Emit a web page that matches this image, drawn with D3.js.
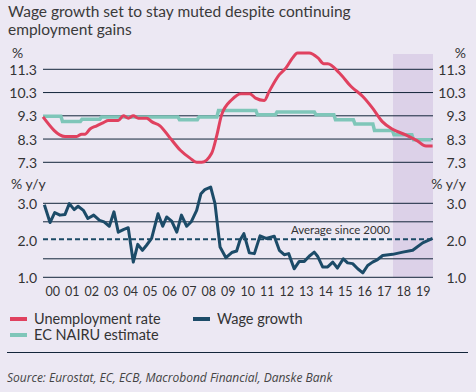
<!DOCTYPE html>
<html>
<head>
<meta charset="utf-8">
<script src="https://cdn.jsdelivr.net/npm/d3@7"></script>
<style>
  body { margin: 0; background: #ece8f3; }
  svg { display: block; font-family: Lato, "Open Sans", sans-serif; }
</style>
</head>
<body>
<div id="chart"></div>
<script>
// [decimal year, value]
const unemployment = [
  [2000.0, 9.25], [2001.13, 8.41], [2001.73, 8.41], [2001.98, 8.51], [2002.15, 8.51],
  [2002.41, 8.73], [2002.75, 8.87], [2003.1, 9.01], [2003.35, 9.1], [2003.86, 9.1],
  [2004.12, 9.3], [2004.38, 9.2], [2004.63, 9.3], [2004.89, 9.2], [2005.32, 9.2],
  [2005.57, 9.05], [2006.0, 8.87], [2006.51, 8.35], [2007.03, 7.83], [2007.54, 7.48],
  [2007.88, 7.3], [2008.14, 7.3], [2008.65, 7.69], [2008.9, 8.41], [2009.16, 9.34],
  [2009.68, 9.99], [2010.15, 10.25], [2010.6, 10.25], [2010.9, 10.06], [2011.35, 9.96],
  [2011.6, 10.35], [2012.12, 11.07], [2012.46, 11.36], [2012.8, 11.79], [2013.05, 12.0],
  [2013.65, 12.0], [2014.1, 11.79], [2014.4, 11.54], [2014.6, 11.54], [2015.2, 11.14],
  [2015.8, 10.56], [2016.4, 10.13], [2016.9, 9.63], [2017.4, 9.05], [2017.93, 8.72],
  [2018.6, 8.48], [2019.2, 8.22], [2019.64, 8.0], [2019.98, 8.0]
];

// EC NAIRU estimate, one value per year
const nairuYears = d3.range(2000, 2020);
const nairuValues = [9.28, 9.05, 9.15, 9.25, 9.25, 9.25, 9.25, 9.13, 9.25, 9.53,
                     9.53, 9.34, 9.46, 9.46, 9.34, 9.13, 8.95, 8.67, 8.48, 8.27];

const wages = [
  [2000.07, 2.96], [2000.36, 2.48], [2000.6, 2.75], [2000.87, 2.68], [2001.13, 2.70],
  [2001.35, 2.99], [2001.6, 2.83], [2001.8, 2.92], [2002.07, 2.81], [2002.3, 2.59],
  [2002.6, 2.68], [2002.9, 2.54], [2003.13, 2.50], [2003.4, 2.38], [2003.64, 2.77],
  [2003.86, 2.22], [2004.12, 2.29], [2004.37, 2.34], [2004.63, 1.41], [2004.86, 1.89],
  [2005.1, 1.73], [2005.3, 1.86], [2005.57, 2.05], [2005.9, 2.72], [2006.14, 2.38],
  [2006.34, 2.63], [2006.6, 2.52], [2006.86, 2.22], [2007.1, 2.68], [2007.37, 2.38],
  [2007.6, 2.50], [2007.88, 2.81], [2008.1, 3.26], [2008.3, 3.37], [2008.6, 3.44],
  [2008.82, 2.99], [2009.08, 1.82], [2009.38, 1.53], [2009.68, 1.67], [2009.93, 1.71],
  [2010.1, 2.0], [2010.3, 2.18], [2010.58, 1.66], [2010.84, 1.64], [2011.13, 2.12],
  [2011.44, 2.05], [2011.86, 2.11], [2012.12, 1.73], [2012.37, 1.61], [2012.6, 1.64],
  [2012.88, 1.23], [2013.14, 1.43], [2013.4, 1.43], [2013.65, 1.57], [2013.91, 1.68],
  [2014.08, 1.57], [2014.34, 1.28], [2014.6, 1.28], [2014.86, 1.41], [2015.1, 1.25],
  [2015.4, 1.5], [2015.62, 1.39], [2015.88, 1.37], [2016.14, 1.23], [2016.4, 1.12],
  [2016.65, 1.32], [2016.9, 1.41], [2017.16, 1.48], [2017.42, 1.59], [2017.93, 1.62],
  [2018.45, 1.68], [2018.96, 1.73], [2019.47, 1.93], [2019.98, 2.05]
];

const wageAverage = 2.03;
const forecastStart = 2017.95;

const topTicks = [7.3, 8.3, 9.3, 10.3, 11.3];
const bottomGrid = [1.0, 1.5, 2.5, 3.0];
const bottomTicks = [1.0, 2.0, 3.0];
const yearLabels = ["00","01","02","03","04","05","06","07","08","09",
                    "10","11","12","13","14","15","16","17","18","19"];

const width = 476, height = 392;
const svg = d3.select("#chart").append("svg")
  .attr("width", width).attr("height", height);

svg.append("rect").attr("width", width).attr("height", height).attr("fill", "#ece8f3");

const x = d3.scaleLinear().domain([2000, 2020]).range([43, 433]);
const yTop = d3.scaleLinear().domain([7.3, 11.3]).range([162.3, 69.3]);
const yBot = d3.scaleLinear().domain([1.0, 3.0]).range([277.3, 203.3]);

const textCol = "#333333";
const gridCol = "#13253a";

// title
svg.append("text").attr("x", 8).attr("y", 17)
  .attr("font-size", 15.5).attr("fill", "#3a3a3a")
  .text("Wage growth set to stay muted despite continuing");
svg.append("text").attr("x", 8).attr("y", 35)
  .attr("font-size", 15.5).attr("fill", "#3a3a3a")
  .text("employment gains");

// forecast shading
svg.append("rect")
  .attr("x", x(forecastStart)).attr("y", 54)
  .attr("width", x(2020) - x(forecastStart)).attr("height", yBot(1.0) - 54)
  .attr("fill", "#dcd1e8");

// top gridlines and labels
svg.append("g").selectAll("line").data(topTicks).join("line")
  .attr("x1", x(2000)).attr("x2", x(2020))
  .attr("y1", d => yTop(d)).attr("y2", d => yTop(d))
  .attr("stroke", gridCol).attr("stroke-width", 1);

const lab = svg.append("g").attr("font-size", 14).attr("fill", textCol)
  .attr("dominant-baseline", "central");
lab.selectAll(".tl").data(topTicks).join("text")
  .attr("x", 37).attr("y", d => yTop(d)).attr("text-anchor", "end")
  .text(d => d.toFixed(1));
lab.selectAll(".tr").data(topTicks).join("text")
  .attr("x", 466).attr("y", d => yTop(d)).attr("text-anchor", "end")
  .text(d => d.toFixed(1));
lab.append("text").attr("x", 12).attr("y", 52).text("%");
lab.append("text").attr("x", 466).attr("y", 52).attr("text-anchor", "end").text("%");

// bottom gridlines and labels
svg.append("g").selectAll("line").data(bottomGrid).join("line")
  .attr("x1", x(2000)).attr("x2", x(2020))
  .attr("y1", d => yBot(d)).attr("y2", d => yBot(d))
  .attr("stroke", gridCol).attr("stroke-width", 1);

lab.selectAll(".bl").data(bottomTicks).join("text")
  .attr("x", 37).attr("y", d => yBot(d)).attr("text-anchor", "end")
  .text(d => d.toFixed(1));
lab.selectAll(".br").data(bottomTicks).join("text")
  .attr("x", 466).attr("y", d => yBot(d)).attr("text-anchor", "end")
  .text(d => d.toFixed(1));
lab.append("text").attr("x", 11).attr("y", 183).text("% y/y");
lab.append("text").attr("x", 466).attr("y", 183).attr("text-anchor", "end").text("% y/y");

// average line
svg.append("line")
  .attr("x1", x(2000)).attr("x2", x(2020))
  .attr("y1", yBot(wageAverage)).attr("y2", yBot(wageAverage))
  .attr("stroke", "#1b4a66").attr("stroke-width", 2)
  .attr("stroke-dasharray", "5,3");
svg.append("text").attr("x", 390).attr("y", yBot(wageAverage) - 5)
  .attr("text-anchor", "end").attr("font-size", 11.5).attr("fill", textCol)
  .text("Average since 2000");

// x labels
svg.append("g").selectAll("text").data(yearLabels).join("text")
  .attr("x", (d, i) => x(2000 + i + 0.5)).attr("y", 291)
  .attr("text-anchor", "middle").attr("dominant-baseline", "central")
  .attr("font-size", 12.5).attr("fill", textCol)
  .text(d => d);

// series
const line = (ys) => d3.line().x(d => x(d[0])).y(d => ys(d[1]));

const nairu = [];
nairuYears.forEach((yr, i) => {
  nairu.push([yr, nairuValues[i]]);
  nairu.push([yr + 11 / 12, nairuValues[i]]);
});

svg.append("path").datum(nairu)
  .attr("d", line(yTop))
  .attr("fill", "none").attr("stroke", "#7fc6b9").attr("stroke-width", 3.5);

svg.append("path").datum(unemployment)
  .attr("d", line(yTop).curve(d3.curveMonotoneX))
  .attr("fill", "none").attr("stroke", "#e0415f").attr("stroke-width", 3)
  .attr("stroke-linejoin", "round");

svg.append("path").datum(wages)
  .attr("d", line(yBot))
  .attr("fill", "none").attr("stroke", "#1c4b68").attr("stroke-width", 3)
  .attr("stroke-linejoin", "round");

// legend
const legend = [
  { label: "Unemployment rate", color: "#e0415f", x: 10, y: 318 },
  { label: "Wage growth", color: "#1c4b68", x: 193, y: 318 },
  { label: "EC NAIRU estimate", color: "#7fc6b9", x: 10, y: 334 }
];
const lg = svg.append("g").selectAll("g").data(legend).join("g");
lg.append("line")
  .attr("x1", d => d.x).attr("x2", d => d.x + 17)
  .attr("y1", d => d.y + 1).attr("y2", d => d.y + 1)
  .attr("stroke", d => d.color).attr("stroke-width", 4);
lg.append("text")
  .attr("x", d => d.x + 24).attr("y", d => d.y)
  .attr("dominant-baseline", "central")
  .attr("font-size", 14.5).attr("fill", textCol)
  .text(d => d.label);

// separator and source
svg.append("line").attr("x1", 7).attr("x2", 468).attr("y1", 352.5).attr("y2", 352.5)
  .attr("stroke", gridCol).attr("stroke-width", 1);
svg.append("text").attr("x", 7).attr("y", 382)
  .attr("font-family", "'Open Sans', sans-serif")
  .attr("font-size", 12).attr("font-style", "italic").attr("fill", "#444")
  .text("Source: Eurostat, EC, ECB, Macrobond Financial, Danske Bank");
</script>
</body>
</html>
